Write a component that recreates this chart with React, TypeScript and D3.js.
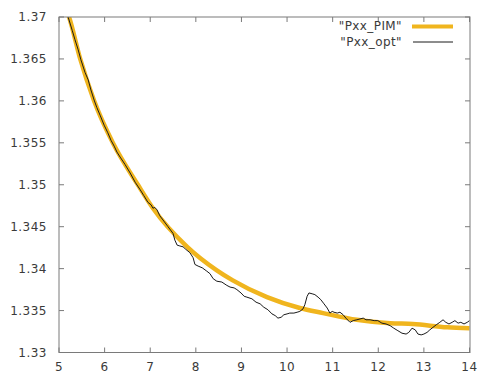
import React from "react";
import * as d3 from "d3";

const xTicks = [5, 6, 7, 8, 9, 10, 11, 12, 13, 14];
const yTicks = [1.33, 1.335, 1.34, 1.345, 1.35, 1.355, 1.36, 1.365, 1.37];
const yTickLabels = ["1.33", "1.335", "1.34", "1.345", "1.35", "1.355", "1.36", "1.365", "1.37"];

const pimX = [5.18, 5.22, 5.46, 5.77, 6.18, 6.73, 7.06, 7.81, 8.46, 8.81, 9.56, 10.28, 10.79, 11.53, 12.26, 12.76, 13.51, 14.0];
const pimY = [1.3706, 1.37, 1.3651, 1.36, 1.355, 1.35, 1.3472, 1.3426, 1.3398, 1.3386, 1.3366, 1.3353, 1.3347, 1.3339, 1.3335, 1.3334, 1.333, 1.3329];

const optX = [5.17, 5.2, 5.29, 5.35, 5.42, 5.48, 5.57, 5.64, 5.7, 5.77, 5.83, 5.9, 5.99, 6.07, 6.14, 6.21, 6.27, 6.34, 6.45, 6.56, 6.67, 6.78, 6.86, 6.95, 7.02, 7.06, 7.1, 7.15, 7.21, 7.28, 7.39, 7.5, 7.54, 7.59, 7.65, 7.72, 7.78, 7.87, 7.94, 7.98, 8.05, 8.14, 8.24, 8.31, 8.38, 8.46, 8.57, 8.68, 8.75, 8.84, 8.9, 8.99, 9.06, 9.12, 9.23, 9.32, 9.41, 9.49, 9.58, 9.67, 9.74, 9.8, 9.87, 9.93, 10.0, 10.06, 10.15, 10.22, 10.28, 10.35, 10.39, 10.44, 10.48, 10.55, 10.61, 10.68, 10.74, 10.81, 10.88, 10.94, 10.99, 11.03, 11.1, 11.16, 11.23, 11.29, 11.38, 11.45, 11.53, 11.6, 11.67, 11.73, 11.82, 11.91, 11.99, 12.08, 12.17, 12.26, 12.34, 12.43, 12.52, 12.61, 12.67, 12.74, 12.81, 12.87, 12.94, 13.0, 13.07, 13.13, 13.2, 13.27, 13.35, 13.42, 13.48, 13.55, 13.62, 13.68, 13.75, 13.81, 13.88, 13.95, 14.0];
const optY = [1.3706, 1.37, 1.3684, 1.3673, 1.3661, 1.3649, 1.3634, 1.3625, 1.3613, 1.3601, 1.3592, 1.3583, 1.3571, 1.3562, 1.3553, 1.3546, 1.3539, 1.3533, 1.3524, 1.3514, 1.3503, 1.3494, 1.3487, 1.3479, 1.3476, 1.3472, 1.3473, 1.347, 1.3463, 1.3458, 1.345, 1.3442, 1.3434, 1.3428, 1.3427, 1.3426, 1.3423, 1.3419, 1.3413, 1.3405, 1.3403, 1.3401, 1.3397, 1.3394, 1.3388, 1.3385, 1.3384, 1.338, 1.3378, 1.3377, 1.3375, 1.3371, 1.3367, 1.3366, 1.3364, 1.336, 1.3358, 1.3354, 1.3351, 1.3346, 1.3344, 1.3341, 1.3342, 1.3345, 1.3346, 1.3347, 1.3347, 1.3348, 1.3349, 1.3352, 1.3357, 1.3367, 1.3371, 1.337, 1.3369, 1.3366, 1.3363, 1.3358, 1.3353, 1.3347, 1.3349, 1.3348, 1.3347, 1.3348, 1.3345, 1.3341, 1.3336, 1.3338, 1.3339, 1.334, 1.3341, 1.3339, 1.3339, 1.3338, 1.3338, 1.3335, 1.3334, 1.3332, 1.3329, 1.3326, 1.3323, 1.3322, 1.3324, 1.3329, 1.3327, 1.3322, 1.3321, 1.3322, 1.3324, 1.3327, 1.333, 1.3333, 1.3336, 1.3339, 1.3336, 1.3334, 1.3336, 1.3338, 1.3335, 1.3336, 1.3334, 1.3336, 1.3338];

const legendLabels = ['"Pxx_PIM"', '"Pxx_opt"'];

export default function App() {
  const W = 479, H = 378;
  const left = 59, right = 470, top = 17, bottom = 352.5;
  const x = d3.scaleLinear().domain([5, 14]).range([left, right - 0.5]);
  const y = d3.scaleLinear().domain([1.33, 1.37]).range([bottom, top]);

  const pim = pimX.map((v, i) => [v, pimY[i]] as [number, number]);
  const opt = optX.map((v, i) => [v, optY[i]] as [number, number]);

  const pimLine = d3.line<[number, number]>().x(d => x(d[0])).y(d => y(d[1])).curve(d3.curveMonotoneX);
  const optLine = d3.line<[number, number]>().x(d => x(d[0])).y(d => y(d[1]));

  const frame = "#7a7a7a";
  const textColor = "#3a3a3a";
  const font = "DejaVu Sans, sans-serif";
  const yellow = "#f0b51e";
  const tl = 5;

  return (
    <svg width={W} height={H} style={{ position: "absolute", left: 0, top: 0, background: "#fff" }}>
      <defs>
        <clipPath id="plot">
          <rect x={left} y={top} width={right - left} height={bottom - top} />
        </clipPath>
      </defs>
      <rect width={W} height={H} fill="#fff" />
      <g clipPath="url(#plot)">
        <path d={pimLine(pim) || ""} fill="none" stroke={yellow} strokeWidth={4.5} />
        <path d={optLine(opt) || ""} fill="none" stroke="#1a1a1a" strokeWidth={1} />
      </g>
      {/* ticks */}
      {xTicks.map(t => (
        <g key={"x" + t}>
          <line x1={x(t)} x2={x(t)} y1={bottom} y2={bottom - tl} stroke={frame} />
          <line x1={x(t)} x2={x(t)} y1={top} y2={top + tl} stroke={frame} />
          <text x={x(t)} y={367} textAnchor="middle" dominantBaseline="central" fontFamily={font} fontSize={12} letterSpacing={0.5} fill={textColor}>{t}</text>
        </g>
      ))}
      {yTicks.map((t, i) => (
        <g key={"y" + t}>
          <line x1={left} x2={left + tl} y1={y(t)} y2={y(t)} stroke={frame} />
          <line x1={right} x2={right - tl} y1={y(t)} y2={y(t)} stroke={frame} />
          <text x={47} y={y(t)} textAnchor="end" dominantBaseline="central" fontFamily={font} fontSize={12} letterSpacing={0.5} fill={textColor}>{yTickLabels[i]}</text>
        </g>
      ))}
      <rect x={left} y={top} width={right - left} height={bottom - top} fill="none" stroke={frame} strokeWidth={1} />
      {/* legend */}
      <text x={402} y={26} textAnchor="end" dominantBaseline="central" fontFamily={font} fontSize={12} letterSpacing={0.4} fill={textColor}>{legendLabels[0]}</text>
      <line x1={412} x2={453} y1={26.5} y2={26.5} stroke={yellow} strokeWidth={4} />
      <text x={402} y={42} textAnchor="end" dominantBaseline="central" fontFamily={font} fontSize={12} letterSpacing={0.4} fill={textColor}>{legendLabels[1]}</text>
      <line x1={413} x2={453} y1={42} y2={42} stroke="#1a1a1a" strokeWidth={1} />
    </svg>
  );
}
